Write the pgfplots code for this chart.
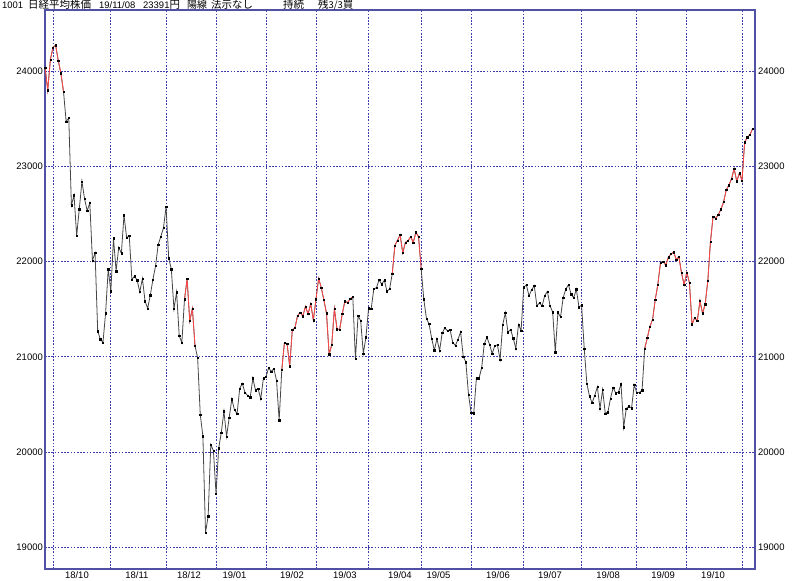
\documentclass[border=0pt]{standalone}
\usepackage{fontspec}
\setmainfont{Liberation Sans}
\newfontfamily\jp{Noto Sans CJK JP}
\usepackage{pgfplots}
\usepackage{pgfplotstable}
\pgfplotsset{compat=1.18}
\definecolor{gridblue}{RGB}{60,60,175}
\definecolor{frameblue}{RGB}{80,80,165}
\definecolor{linered}{RGB}{255,70,70}
\definecolor{linegray}{RGB}{70,70,70}

\pgfplotstableread{
x y
-3 24033.79
-2 23796.74
-1 24120.04
0 24245.76
1 24270.62
2 24110.11
3 23975.62
4 23783.72
5 23469.39
6 23506.04
7 22590.86
8 22694.66
9 22271.30
10 22549.24
11 22841.12
12 22658.16
13 22532.08
14 22614.82
15 22010.78
16 22091.18
17 21268.73
18 21184.60
19 21149.80
20 21457.29
21 21920.46
22 21687.65
23 22243.66
24 21898.99
25 22147.75
26 22085.80
27 22486.92
28 22250.25
29 22269.88
30 21810.52
31 21846.48
32 21803.62
33 21680.34
34 21821.16
35 21583.12
36 21507.54
37 21646.55
38 21812.00
39 21952.40
40 22177.02
41 22262.60
42 22351.06
43 22574.76
44 22036.05
45 21919.33
46 21501.62
47 21678.68
48 21219.50
49 21148.02
50 21602.75
51 21816.19
52 21374.83
53 21506.88
54 21115.45
55 20987.92
56 20392.58
57 20166.19
58 19155.74
59 19327.06
60 20077.62
61 20014.77
62 19561.96
63 20038.97
64 20204.04
65 20427.06
66 20163.80
67 20359.70
68 20555.29
69 20442.75
70 20402.27
71 20666.07
72 20719.33
73 20622.91
74 20593.72
75 20574.63
76 20773.56
77 20649.00
78 20664.64
79 20556.54
80 20773.49
81 20788.39
82 20883.77
83 20844.45
84 20874.06
85 20751.28
86 20333.17
87 20864.21
88 21144.48
89 21139.71
90 20900.63
91 21281.85
92 21302.65
93 21431.49
94 21464.23
95 21425.51
96 21528.23
97 21449.39
98 21556.51
99 21385.16
100 21602.69
101 21822.04
102 21726.28
103 21596.81
104 21456.01
105 21025.56
106 21125.09
107 21503.69
108 21290.24
109 21287.02
110 21450.85
111 21584.50
112 21566.85
113 21608.92
114 21627.34
115 20977.11
116 21428.39
117 21378.21
118 21033.76
119 21205.81
120 21509.03
121 21505.31
122 21713.21
123 21724.95
124 21807.50
125 21761.65
126 21802.59
127 21687.57
128 21711.38
129 21870.56
130 22169.11
131 22221.66
132 22277.97
133 22090.12
134 22200.00
135 22217.90
136 22259.74
137 22200.56
138 22307.58
139 22258.73
140 21923.72
141 21602.59
142 21402.13
143 21344.92
144 21191.28
145 21067.23
146 21188.56
147 21062.98
148 21250.09
149 21301.73
150 21272.45
151 21283.37
152 21151.14
153 21117.22
154 21182.58
155 21260.14
156 21003.37
157 20942.53
158 20601.19
159 20410.88
160 20408.54
161 20776.10
162 20774.04
163 20884.71
164 21134.42
165 21204.28
166 21129.72
167 21032.00
168 21116.89
169 21124.00
170 20972.71
171 21333.87
172 21462.86
173 21258.64
174 21285.99
175 21193.81
176 21086.59
177 21338.17
178 21275.92
179 21729.97
180 21754.27
181 21638.16
182 21702.45
183 21746.38
184 21534.35
185 21565.15
186 21533.48
187 21643.53
188 21685.90
189 21535.25
190 21469.18
191 21046.24
192 21466.99
193 21416.79
194 21620.88
195 21709.57
196 21756.55
197 21658.15
198 21616.80
199 21709.31
200 21521.53
201 21540.99
202 21087.16
203 20720.29
204 20585.31
205 20516.56
206 20593.35
207 20684.82
208 20455.44
209 20655.13
210 20405.65
211 20418.81
212 20563.16
213 20677.22
214 20618.57
215 20628.01
216 20710.91
217 20261.04
218 20456.08
219 20479.42
220 20460.93
221 20704.37
222 20620.19
223 20625.16
224 20649.14
225 21085.94
226 21199.57
227 21318.42
228 21392.10
229 21597.76
230 21759.61
231 21988.29
232 22001.32
233 21960.71
234 22044.45
235 22079.09
236 22098.84
237 22020.15
238 22048.24
239 21878.90
240 21755.84
241 21885.24
242 21778.61
243 21341.74
244 21410.20
245 21375.25
246 21587.78
247 21456.38
248 21551.98
249 21798.87
250 22207.21
251 22472.92
252 22451.86
253 22492.68
254 22548.90
255 22625.38
256 22750.60
257 22799.81
258 22867.27
259 22974.13
260 22843.12
261 22927.04
262 22850.77
263 23251.99
264 23303.82
265 23330.32
266 23391.87
}\nikkei

\begin{document}
\begin{tikzpicture}
\useasboundingbox (-45bp,-12bp) rectangle (755bp,569bp);
\begin{axis}[
  scale only axis,
  width=710bp, height=559bp,
  xmin=-3.04, xmax=266.94,
  ymin=18772, ymax=24640,
  axis line style={frameblue, line width=1.1bp},
  xtick={0,22,43,62,81,100,120,140,159,179,201,222,241,262},
  xticklabels={},
  ytick={19000,20000,21000,22000,23000,24000},
  scaled ticks=false,
  yticklabel pos=left,
  major tick length=0pt,
  grid=major,
  major grid style={gridblue, line width=0.9bp, dash pattern=on 1.6bp off 1.6bp},
  /pgf/number format/assume math mode=true,
  /pgf/number format/1000 sep={},
  yticklabel style={font=\fontsize{9.5}{10}\selectfont, anchor=east, inner sep=0pt, xshift=-2bp},
  clip=true,
]
\addplot[linegray, line width=0.8bp] table[x=x,y=y] {\nikkei};
\addplot[linered, line width=0.8bp, restrict x to domain=-3:4] table[x=x,y=y] {\nikkei};
\addplot[linered, line width=0.8bp, restrict x to domain=50:54] table[x=x,y=y] {\nikkei};
\addplot[linered, line width=0.8bp, restrict x to domain=87:114] table[x=x,y=y] {\nikkei};
\addplot[linered, line width=0.8bp, restrict x to domain=129:140] table[x=x,y=y] {\nikkei};
\addplot[linered, line width=0.8bp, restrict x to domain=225:266] table[x=x,y=y] {\nikkei};
\addplot[only marks, mark=square*, mark size=0.65bp, black] table[x=x,y=y] {\nikkei};
\end{axis}
\begin{axis}[
  scale only axis,
  width=710bp, height=559bp,
  xmin=-3.04, xmax=266.94,
  ymin=18772, ymax=24640,
  axis line style={draw=none},
  xtick={9.1,31.9,51.7,69.0,90.9,111.0,131.9,146.6,169.2,189.0,211.1,232.0,251.0},
  xticklabels={18/10,18/11,18/12,19/01,19/02,19/03,19/04,19/05,19/06,19/07,19/08,19/09,19/10},
  xticklabel pos=bottom,
  ytick={19000,20000,21000,22000,23000,24000},
  scaled ticks=false,
  yticklabel pos=right,
  major tick length=0pt,
  /pgf/number format/assume math mode=true,
  /pgf/number format/1000 sep={},
  yticklabel style={font=\fontsize{9.5}{10}\selectfont, anchor=west, inner sep=0pt, xshift=3bp},
  xticklabel style={font=\fontsize{9.5}{10}\selectfont, anchor=north, inner sep=0pt, yshift=-2.5bp},
]
\addplot[draw=none, forget plot] coordinates {(0,20000)};
\end{axis}
\begin{scope}[every node/.style={anchor=west, inner sep=0pt}]
\node at (-43bp,564bp) {\fontsize{9.5}{10}\selectfont 1001};
\node at (-17bp,564bp) {\jp\fontsize{10.5}{11}\selectfont 日経平均株価};
\node at (54bp,564bp) {\fontsize{9.5}{10}\selectfont 19/11/08};
\node at (98bp,564bp) {\fontsize{9.5}{10}\selectfont 23391{\jp\fontsize{10.5}{11}\selectfont 円}};
\node at (142bp,564bp) {\jp\fontsize{10}{11}\selectfont 陽線};
\node at (166bp,564bp) {\jp\fontsize{10.5}{11}\selectfont 法示なし};
\node at (238bp,564bp) {\jp\fontsize{10.5}{11}\selectfont 持続};
\node at (273bp,564bp) {\jp\fontsize{10.5}{11}\selectfont 残{\fontsize{9.5}{10}\selectfont 3/3}買};
\end{scope}
\end{tikzpicture}
\end{document}
